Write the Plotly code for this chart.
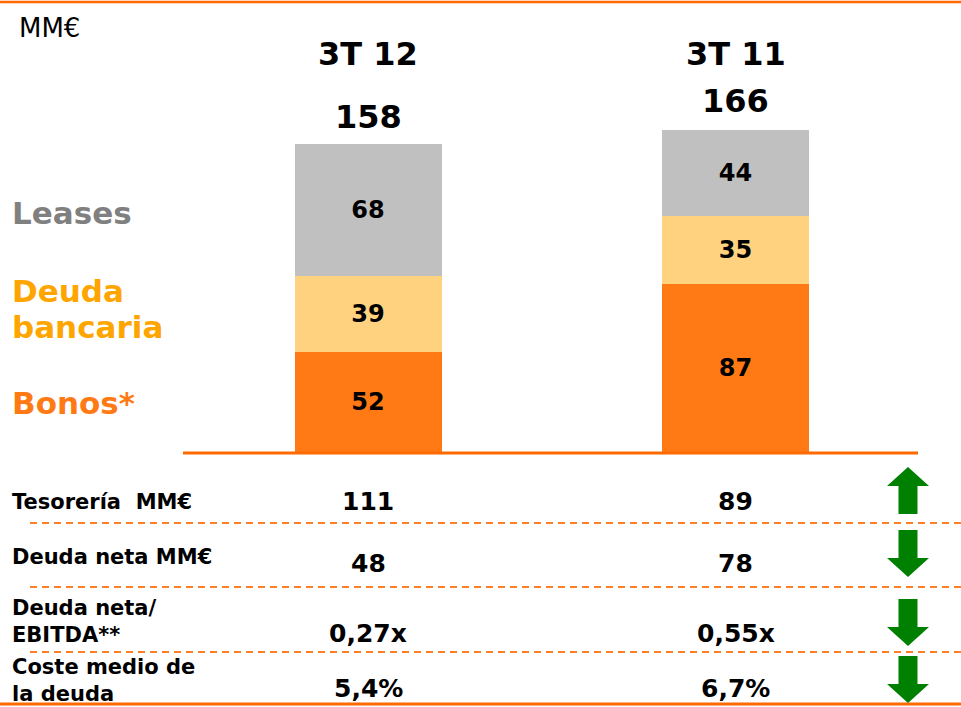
import plotly.graph_objects as go

# ---------------- data ----------------
periods = ["3T 12", "3T 11"]
bonos = [52, 87]
deuda_bancaria = [39, 35]
leases = [68, 44]
totals = [158, 166]

metric_labels = ["Tesorería  MM€", "Deuda neta MM€", "Deuda neta/<br>EBITDA**", "Coste medio de<br>la deuda"]
metric_3t12 = ["111", "48", "0,27x", "5,4%"]
metric_3t11 = ["89", "78", "0,55x", "6,7%"]
metric_trend = ["up", "down", "down", "down"]

# ---------------- styling ----------------
W, H = 961, 707
FONT = "DejaVu Sans"
C_BONOS = "#FF7A14"
C_DEUDA = "#FFD280"
C_LEASES = "#C0C0C0"
C_LINE = "#FF6A00"
C_DASH = "#FF7F27"
C_GREEN = "#008000"

def px(x):
    return x / W

def py(y):
    return 1 - y / H

def bfont(size, color="black"):
    return dict(family=FONT, size=size, color=color, weight="bold")

base_px = 453.0
unit_px = 307.0 / 158.0
y_range = [-(H - base_px) / unit_px, base_px / unit_px]
c0, step = 368.0, 367.5
x_range = [-c0 / step, (W - c0) / step]

fig = go.Figure()
for name, vals, col in [("Bonos*", bonos, C_BONOS),
                        ("Deuda bancaria", deuda_bancaria, C_DEUDA),
                        ("Leases", leases, C_LEASES)]:
    fig.add_trace(go.Bar(
        x=periods, y=vals, name=name, marker=dict(color=col, line=dict(width=0)),
        width=0.4, text=[str(v) for v in vals], textposition="inside",
        insidetextanchor="middle", constraintext="none",
        textfont=bfont(24),
        showlegend=False, hoverinfo="skip"))

ann = []
# totals above bars
for p, t in zip(periods, totals):
    ann.append(dict(x=p, y=t, xref="x", yref="y", text=f"<b>{t}</b>", showarrow=False,
                    yanchor="bottom", yshift=8, font=bfont(32)))
    ann.append(dict(x=p, y=py(54), xref="x", yref="paper", text=f"<b>{p}</b>", showarrow=False,
                    yanchor="middle", font=bfont(32)))

ann.append(dict(x=px(17), y=py(28), xref="paper", yref="paper", text="MM€", showarrow=False,
                xanchor="left", yanchor="middle", font=dict(family=FONT, size=26, color="black")))

# series labels
for txt, yc, col in [("Leases", 213, "#808080"), ("Deuda", 291, "#FFA500"),
                     ("bancaria", 327, "#FFA500"), ("Bonos*", 403, "#FF7A14")]:
    ann.append(dict(x=px(10), y=py(yc), xref="paper", yref="paper", text=f"<b>{txt}</b>",
                    showarrow=False, xanchor="left", yanchor="middle", font=bfont(31, col)))

# table rows
row_label_y = [502, 557, 621, 680]
row_value_y = [501, 563, 633, 688]
for lab, v1, v2, ly, vy in zip(metric_labels, metric_3t12, metric_3t11, row_label_y, row_value_y):
    ann.append(dict(x=px(10), y=py(ly), xref="paper", yref="paper", text=f"<b>{lab}</b>",
                    showarrow=False, xanchor="left", yanchor="middle", align="left",
                    font=bfont(21)))
    for p, v in zip(periods, [v1, v2]):
        ann.append(dict(x=p, y=py(vy), xref="x", yref="paper", text=f"<b>{v}</b>",
                        showarrow=False, yanchor="middle", font=bfont(25)))

shapes = []
shapes.append(dict(type="line", xref="paper", yref="paper", x0=0, x1=1, y0=py(2), y1=py(2),
                   line=dict(color=C_LINE, width=2.5)))
shapes.append(dict(type="line", xref="paper", yref="paper", x0=0, x1=1, y0=py(704), y1=py(704),
                   line=dict(color=C_LINE, width=3)))
shapes.append(dict(type="line", xref="paper", yref="paper", x0=px(183), x1=px(918),
                   y0=py(base_px), y1=py(base_px), line=dict(color=C_LINE, width=3), layer="above"))
for yd in [523, 587, 652]:
    shapes.append(dict(type="line", xref="paper", yref="paper", x0=px(30), x1=1,
                       y0=py(yd), y1=py(yd), line=dict(color=C_DASH, width=2, dash="7px,5px")))

arrow_tops = [467, 530, 599, 656]
ax = 908
for trend, top in zip(metric_trend, arrow_tops):
    hw, sw = 21, 9.5
    if trend == "up":
        pts = [(ax, top), (ax + hw, top + 19), (ax + sw, top + 19), (ax + sw, top + 47),
               (ax - sw, top + 47), (ax - sw, top + 19), (ax - hw, top + 19)]
    else:
        pts = [(ax - sw, top), (ax + sw, top), (ax + sw, top + 28), (ax + hw, top + 28),
               (ax, top + 47), (ax - hw, top + 28), (ax - sw, top + 28)]
    path = "M " + " L ".join(f"{px(a):.5f},{py(b):.5f}" for a, b in pts) + " Z"
    shapes.append(dict(type="path", xref="paper", yref="paper", path=path,
                       fillcolor=C_GREEN, line=dict(width=0)))

fig.update_layout(
    width=W, height=H, barmode="stack",
    margin=dict(l=0, r=0, t=0, b=0),
    paper_bgcolor="white", plot_bgcolor="white",
    xaxis=dict(type="category", range=x_range, visible=False, fixedrange=True),
    yaxis=dict(range=y_range, visible=False, fixedrange=True),
    annotations=ann, shapes=shapes,
    font=dict(family=FONT),
)

fig.write_html("out.html", config={"displayModeBar": False},
               post_script="document.body.style.margin='0';document.body.style.overflow='hidden';")
